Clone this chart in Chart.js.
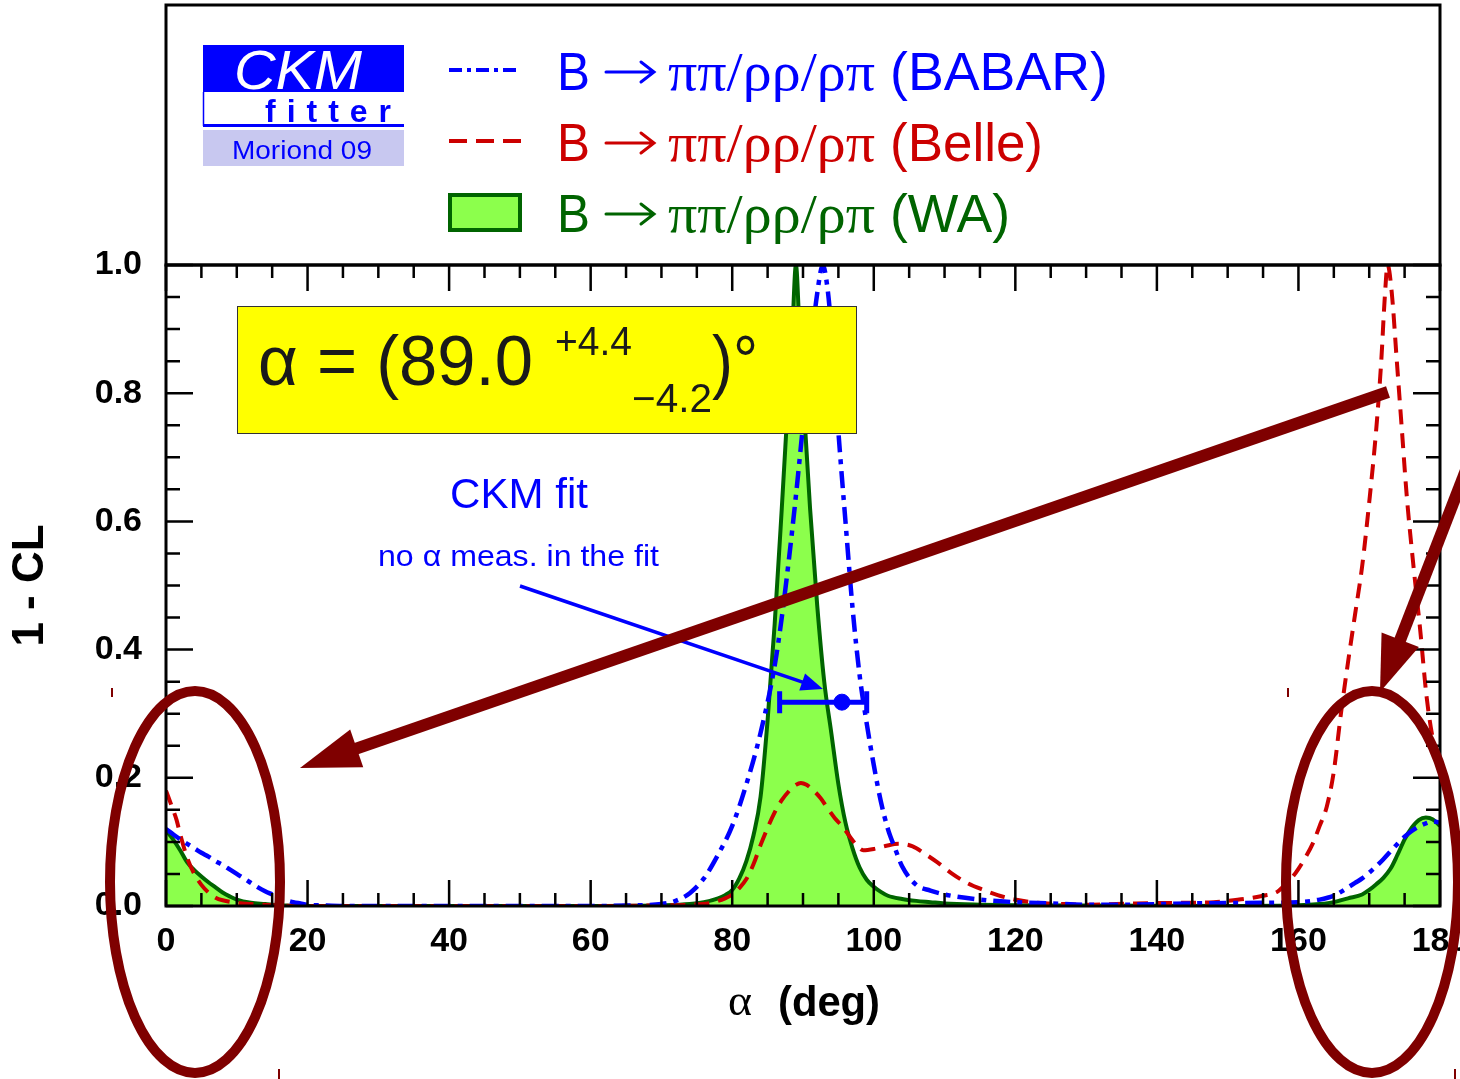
<!DOCTYPE html>
<html>
<head>
<meta charset="utf-8">
<title>alpha - 1-CL</title>
<script src="https://cdn.jsdelivr.net/npm/chart.js@4.4.1/dist/chart.umd.min.js"></script>
<style>
  html, body { margin: 0; padding: 0; background: #fff; }
  canvas { display: block; }
</style>
</head>
<body>
<canvas id="cl" width="1460" height="1079"></canvas>
<script>
// ---- data (alpha in degrees, 1-CL) ----
const waAlpha = [0,1,2,3,4,5,6,7,8,9,10,12,14,16,20,60,70,74,76,78,79,80,81,82,83,84,85,86,87,88,88.5,89,89.5,90,91,92,93,94,95,96,97,98,99,100,101,102,104,106,108,110,115,120,150,160,163,165,167,169,170,171,172,173,174,175,176,177,178,179,180]
const waCL = [0.118,0.104,0.087,0.068,0.056,0.046,0.037,0.029,0.021,0.015,0.010,0.005,0.003,0.001,0,0,0.001,0.003,0.006,0.012,0.017,0.025,0.043,0.07,0.11,0.17,0.29,0.44,0.62,0.81,0.9,1.0,0.9,0.8,0.62,0.47,0.35,0.27,0.19,0.13,0.09,0.06,0.041,0.03,0.022,0.016,0.011,0.008,0.006,0.004,0.002,0.001,0,0.001,0.003,0.006,0.012,0.018,0.025,0.034,0.044,0.058,0.08,0.104,0.122,0.134,0.138,0.135,0.125]

const babarAlpha = [0,1,2,3,4,5,6,7,8,9,10,11,12,13,14,15,16,17,18,19,20,22,25,60,66,70,72,74,76,78,80,82,84,86,87,88,89,90,91,92,92.8,93.5,94,95,96,97,98,99,100,101,102,103,104,106,108,110,115,120,125,130,135,145,155,160,163,165,166,167,168,169,170,171,172,173,174,175,176,177,178,179,180]
const babarCL = [0.12,0.112,0.104,0.097,0.09,0.083,0.077,0.07,0.064,0.057,0.05,0.043,0.036,0.029,0.023,0.018,0.013,0.009,0.006,0.004,0.002,0.001,0,0,0.001,0.003,0.008,0.02,0.043,0.08,0.125,0.19,0.27,0.375,0.45,0.54,0.64,0.75,0.86,0.955,1.0,0.96,0.9,0.74,0.6,0.465,0.36,0.285,0.22,0.163,0.12,0.09,0.062,0.033,0.024,0.018,0.01,0.006,0.004,0.002,0.002,0.004,0.005,0.006,0.01,0.016,0.022,0.029,0.036,0.043,0.052,0.062,0.073,0.085,0.097,0.108,0.117,0.124,0.129,0.132,0.13]

const belleAlpha = [0,1,1.5,2,3,4,5,6,7,8,10,12,15,20,60,70,74,77,79,80,81,82,83,84,85,86,87,88,89,89.7,90.5,91.5,92.5,93.5,94.5,95.5,96.5,97.5,98.5,100,101.8,103.5,105.5,107,109,111,113,115.5,117.5,119.5,123,127,130,137,143,148,150,153,155,157,158,159,160,161,162,163,164,165,166,167,168,169,170,171,171.7,172.2,172.6,173.2,173.9,174.6,175.3,176.2,177.2,178.1,179,180]
const belleCL = [0.18,0.15,0.134,0.112,0.075,0.05,0.033,0.021,0.013,0.009,0.005,0.003,0.001,0,0,0.001,0.002,0.005,0.012,0.018,0.028,0.042,0.065,0.095,0.122,0.146,0.165,0.179,0.189,0.192,0.189,0.18,0.168,0.152,0.137,0.125,0.11,0.096,0.087,0.089,0.094,0.097,0.093,0.083,0.068,0.051,0.037,0.025,0.017,0.011,0.005,0.003,0.002,0.004,0.005,0.006,0.008,0.012,0.016,0.022,0.032,0.043,0.058,0.076,0.097,0.125,0.155,0.21,0.3,0.38,0.455,0.53,0.63,0.745,0.85,0.95,1.0,0.955,0.85,0.745,0.64,0.536,0.431,0.327,0.26,0.22]

// CKM fit (no alpha measurement), central value and range
const ckmAlpha = [95.5]
const ckmCL = [0.318]
const ckmLow = [86.7]
const ckmHigh = [99.0]

const xMajor = 20, xMinor = 5
const yMajor = 0.2, yMinor = 0.05

const seriesNames = ['(BABAR)', '(Belle)', '(WA)']

const BLUE = '#0000ff'
const RED = '#cc0000'
const DKGREEN = '#006400'
const LTGREEN = '#8cff4c'
const MAROON = '#7f0000'
const SANS = '"Liberation Sans", Arial, Helvetica, sans-serif'
const SERIF = '"Liberation Serif", "Times New Roman", serif'

function pts(xs, ys) { return xs.map((a, i) => ({x: a, y: ys[i]})) }

function fitText(ctx, text, x, y, w) {
    let m = ctx.measureText(text).width
    ctx.save()
    ctx.translate(x, y)
    ctx.scale(w / m, 1)
    ctx.fillText(text, 0, 0)
    ctx.restore()
}

function arrow(ctx, x0, y0, x1, y1, lw, headLen, headHalf, color) {
    let dx = x1 - x0, dy = y1 - y0
    let L = Math.hypot(dx, dy)
    let ux = dx / L, uy = dy / L
    let bx = x1 - ux * headLen, by = y1 - uy * headLen
    ctx.save()
    ctx.strokeStyle = color
    ctx.fillStyle = color
    ctx.lineWidth = lw
    ctx.lineCap = 'butt'
    ctx.beginPath()
    ctx.moveTo(x0, y0)
    ctx.lineTo(bx + ux * 2, by + uy * 2)
    ctx.stroke()
    ctx.beginPath()
    ctx.moveTo(x1, y1)
    ctx.lineTo(bx - uy * headHalf, by + ux * headHalf)
    ctx.lineTo(bx + uy * headHalf, by - ux * headHalf)
    ctx.closePath()
    ctx.fill()
    ctx.restore()
}

// the "→" in the legend lines, drawn like the Symbol-font arrow
function textArrow(ctx, x0, x1, y, color) {
    ctx.save()
    ctx.strokeStyle = color
    ctx.lineWidth = 3
    ctx.lineCap = 'round'
    ctx.beginPath()
    ctx.moveTo(x0, y); ctx.lineTo(x1, y)
    ctx.moveTo(x1 - 13, y - 10); ctx.lineTo(x1, y); ctx.lineTo(x1 - 13, y + 10)
    ctx.stroke()
    ctx.restore()
}

const decor = {
    id: 'decor',
    beforeDraw(chart) {
        const ctx = chart.ctx
        ctx.save()
        ctx.fillStyle = '#fff'
        ctx.fillRect(0, 0, chart.width, chart.height)
        ctx.restore()
    },
    afterDatasetsDraw(chart) {
        const ctx = chart.ctx
        const xs = chart.scales.x, ys = chart.scales.y

        // CKM fit range bar
        ctx.save()
        ctx.strokeStyle = BLUE
        ctx.lineWidth = 5
        for (let i = 0; i < ckmAlpha.length; i++) {
            let y = ys.getPixelForValue(ckmCL[i])
            let xl = xs.getPixelForValue(ckmLow[i]), xh = xs.getPixelForValue(ckmHigh[i])
            ctx.beginPath()
            ctx.moveTo(xl, y); ctx.lineTo(xh, y)
            ctx.moveTo(xl, y - 11); ctx.lineTo(xl, y + 11)
            ctx.moveTo(xh, y - 11); ctx.lineTo(xh, y + 11)
            ctx.stroke()
        }
        ctx.restore()

        // yellow result box
        ctx.save()
        ctx.fillStyle = '#ffff00'
        ctx.fillRect(237, 306, 619, 127)
        ctx.strokeStyle = '#333'
        ctx.lineWidth = 1
        ctx.strokeRect(237.5, 306.5, 619, 127)
        ctx.fillStyle = '#1a1a1a'
        ctx.textBaseline = 'alphabetic'
        ctx.font = '70px ' + SANS
        fitText(ctx, 'α = (89.0', 258, 385, 275)
        fitText(ctx, ')°', 712, 385, 46)
        ctx.font = '40px ' + SANS
        fitText(ctx, '+4.4', 555, 355, 77)
        fitText(ctx, '\u22124.2', 632, 412, 80)
        ctx.restore()

        // CKM fit label and arrow
        ctx.save()
        ctx.fillStyle = BLUE
        ctx.font = '42px ' + SANS
        fitText(ctx, 'CKM fit', 450, 508, 138)
        ctx.font = '29px ' + SANS
        fitText(ctx, 'no α meas. in the fit', 378, 566, 281)
        ctx.restore()
        arrow(chart.ctx, 520, 586, 823, 689, 3.5, 22, 9, BLUE)
    },
    afterDraw(chart) {
        const ctx = chart.ctx
        const xs = chart.scales.x, ys = chart.scales.y
        const {left, right, top, bottom} = chart.chartArea

        // frame and inward ticks on all sides
        ctx.save()
        ctx.strokeStyle = '#000'
        ctx.lineWidth = 2.5
        ctx.beginPath()
        for (let v = 0; v <= 180 + 1e-6; v += xMinor) {
            let x = xs.getPixelForValue(v)
            let len = (Math.round(v) % xMajor === 0) ? 26 : 13
            ctx.moveTo(x, bottom); ctx.lineTo(x, bottom - len)
            ctx.moveTo(x, top); ctx.lineTo(x, top + len)
        }
        for (let k = 0; k <= 20; k++) {
            let v = k * yMinor
            let y = ys.getPixelForValue(v)
            let len = (k % 4 === 0) ? 27 : 14
            ctx.moveTo(left, y); ctx.lineTo(left + len, y)
            ctx.moveTo(right, y); ctx.lineTo(right - len, y)
        }
        ctx.stroke()
        ctx.lineWidth = 3
        ctx.strokeRect(left, top, right - left, bottom - top)
        // legend frame
        ctx.strokeRect(left, 5, right - left, top - 5)
        ctx.restore()

        // CKMfitter logo
        ctx.save()
        ctx.fillStyle = BLUE
        ctx.fillRect(203, 45, 201, 47)
        ctx.fillStyle = '#fff'
        ctx.font = 'italic 56px ' + SANS
        fitText(ctx, 'CKM', 234, 89, 128)
        ctx.strokeStyle = BLUE
        ctx.lineWidth = 1.5
        ctx.beginPath(); ctx.moveTo(203.5, 92); ctx.lineTo(203.5, 126); ctx.stroke()
        ctx.lineWidth = 3
        ctx.beginPath(); ctx.moveTo(203, 125.5); ctx.lineTo(404, 125.5); ctx.stroke()
        ctx.fillStyle = BLUE
        ctx.font = 'bold 32px ' + SANS
        let word = 'fitter', xx = 265
        let tot = 0
        for (const c of word) tot += ctx.measureText(c).width
        let gap = (126 - tot) / (word.length - 1)
        for (const c of word) { ctx.fillText(c, xx, 122); xx += ctx.measureText(c).width + gap }
        ctx.fillStyle = '#c8c8f0'
        ctx.fillRect(203, 130, 201, 36)
        ctx.fillStyle = BLUE
        ctx.font = '26px ' + SANS
        fitText(ctx, 'Moriond 09', 232, 159, 140)
        ctx.restore()

        // legend entries
        const rows = [
            {y: 90, color: BLUE, dash: [13, 5, 4, 5], name: seriesNames[0], w: 218},
            {y: 161, color: RED, dash: [18, 9], name: seriesNames[1], w: 153},
            {y: 232, color: DKGREEN, dash: null, name: seriesNames[2], w: 120}
        ]
        ctx.save()
        rows.forEach(r => {
            let cy = r.y - 20
            if (r.dash) {
                ctx.strokeStyle = r.color
                ctx.lineWidth = 4
                ctx.setLineDash(r.dash)
                ctx.beginPath(); ctx.moveTo(449, cy); ctx.lineTo(521, cy); ctx.stroke()
                ctx.setLineDash([])
            } else {
                ctx.fillStyle = LTGREEN
                ctx.fillRect(450, cy - 17, 70, 35)
                ctx.strokeStyle = DKGREEN
                ctx.lineWidth = 4
                ctx.strokeRect(450, cy - 17, 70, 35)
            }
            ctx.fillStyle = r.color
            ctx.font = '54px ' + SANS
            fitText(ctx, 'B', 557, r.y, 33)
            textArrow(ctx, 606, 654, r.y - 18, r.color)
            ctx.font = '54px ' + SERIF
            fitText(ctx, 'ππ/ρρ/ρπ', 668, r.y, 207)
            ctx.font = '54px ' + SANS
            fitText(ctx, r.name, 890, r.y, r.w)
        })
        ctx.restore()

        // x axis title
        ctx.save()
        ctx.fillStyle = '#000'
        ctx.font = '44px ' + SERIF
        fitText(ctx, 'α', 728, 1015, 24)
        ctx.font = 'bold 42px ' + SANS
        fitText(ctx, '(deg)', 778, 1016, 102)
        ctx.restore()

        // maroon annotations
        arrow(ctx, 1388, 392, 300, 768, 12, 60, 20, MAROON)
        arrow(ctx, 1466, 470, 1380, 692, 12, 56, 20, MAROON)
        ctx.save()
        ctx.strokeStyle = MAROON
        ctx.lineWidth = 10
        ctx.beginPath()
        ctx.ellipse(195, 882, 85, 191, 0, 0, Math.PI * 2)
        ctx.stroke()
        ctx.beginPath()
        ctx.ellipse(1372, 882, 86, 191, 0, 0, Math.PI * 2)
        ctx.stroke()
        ctx.lineWidth = 2
        ctx.beginPath()
        ctx.moveTo(112, 688); ctx.lineTo(112, 697)
        ctx.moveTo(1288, 688); ctx.lineTo(1288, 697)
        ctx.moveTo(279, 1069); ctx.lineTo(279, 1079)
        ctx.moveTo(1455, 1069); ctx.lineTo(1455, 1079)
        ctx.stroke()
        ctx.restore()
    }
}

const ctx = document.getElementById('cl').getContext('2d')
new Chart(ctx, {
    type: 'line',
    data: {
        datasets: [
            {
                label: 'CKM fit',
                data: pts(ckmAlpha, ckmCL),
                showLine: false,
                pointRadius: 8,
                pointBackgroundColor: BLUE,
                pointBorderColor: BLUE,
                order: 0
            },
            {
                label: 'B → ππ/ρρ/ρπ (BABAR)',
                data: pts(babarAlpha, babarCL),
                borderColor: BLUE,
                borderWidth: 4.5,
                borderDash: [17, 7, 5, 7],
                pointRadius: 0,
                fill: false,
                cubicInterpolationMode: 'monotone',
                order: 1
            },
            {
                label: 'B → ππ/ρρ/ρπ (Belle)',
                data: pts(belleAlpha, belleCL),
                borderColor: RED,
                borderWidth: 4,
                borderDash: [15, 9],
                pointRadius: 0,
                fill: false,
                cubicInterpolationMode: 'monotone',
                order: 2
            },
            {
                label: 'B → ππ/ρρ/ρπ (WA)',
                data: pts(waAlpha, waCL),
                borderColor: DKGREEN,
                backgroundColor: LTGREEN,
                borderWidth: 4,
                pointRadius: 0,
                fill: 'origin',
                cubicInterpolationMode: 'monotone',
                order: 3
            }
        ]
    },
    options: {
        responsive: false,
        animation: false,
        devicePixelRatio: 1,
        events: [],
        layout: { padding: { top: 265, right: 20, bottom: 0, left: 0 } },
        plugins: {
            legend: { display: false },
            tooltip: { enabled: false }
        },
        scales: {
            x: {
                type: 'linear',
                min: 0,
                max: 180,
                grid: { display: false, drawTicks: false },
                border: { display: false },
                ticks: {
                    stepSize: xMajor,
                    autoSkip: false,
                    maxRotation: 0,
                    padding: 15,
                    color: '#000',
                    font: { family: SANS, size: 34, weight: 'bold' },
                    callback: v => String(v)
                },
                afterFit(s) { s.height = 173; s.paddingLeft = 0; s.paddingRight = 0 }
            },
            y: {
                min: 0,
                max: 1,
                grid: { display: false, drawTicks: false },
                border: { display: false },
                ticks: {
                    stepSize: yMajor,
                    autoSkip: false,
                    padding: 24,
                    color: '#000',
                    font: { family: SANS, size: 34, weight: 'bold' },
                    callback: v => Number(v).toFixed(1)
                },
                title: {
                    display: true,
                    text: '1 - CL',
                    color: '#000',
                    padding: { top: 4, bottom: 0 },
                    font: { family: SANS, size: 44, weight: 'bold' }
                },
                afterFit(s) { s.width = 166; s.paddingTop = 0; s.paddingBottom = 0 }
            }
        }
    },
    plugins: [decor]
});
</script>
</body>
</html>
